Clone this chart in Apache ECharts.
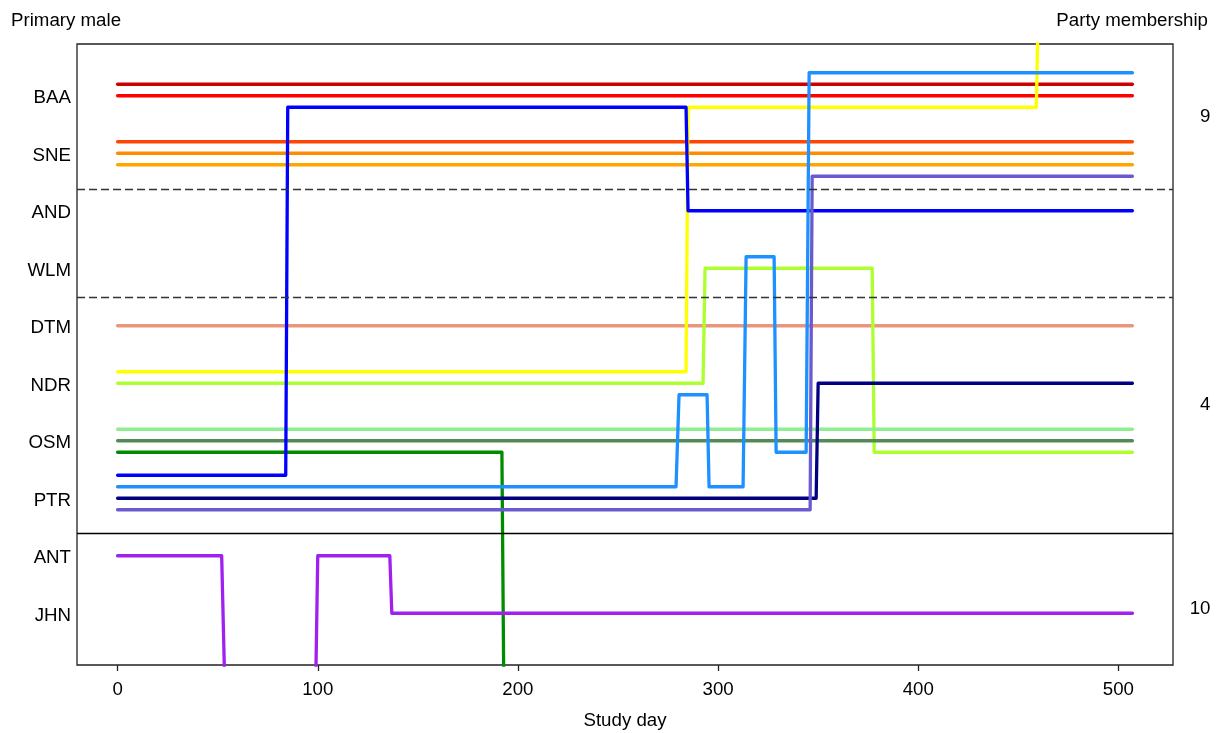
<!DOCTYPE html>
<html>
<head>
<meta charset="utf-8">
<script src="https://cdn.jsdelivr.net/npm/echarts@6/dist/echarts.min.js"></script>
<style>
html,body{margin:0;padding:0;background:#fff;}
#chart{width:1227px;height:733px;}
</style>
</head>
<body>
<div id="chart"></div>
<script>
// ---- data ----
const rowLabels = ['BAA','SNE','AND','WLM','DTM','NDR','OSM','PTR','ANT','JHN'];
const rowValues = [1,2,3,4,5,6,7,8,9,10];
const partyLabels = ['9','4','10'];
const partyValues = [1.34, 6.34, 9.89];
const xTicks = [0,100,200,300,400,500];
const dashedBoundaries = [2.63, 4.5];
const solidBoundaries = [8.6];

// individual paths: [study day, position]
const red3Path        = [[0,0.8],[507,0.8]];
const redPath         = [[0,1.0],[507,1.0]];
const orangeredPath   = [[0,1.8],[507,1.8]];
const darkorangePath  = [[0,2.0],[507,2.0]];
const orangePath      = [[0,2.2],[507,2.2]];
const salmonPath      = [[0,5.0],[507,5.0]];
const yellowPath      = [[0,5.8],[284,5.8],[285,1.2],[459,1.2],[460,-0.6],[507,-0.6]];
const greenyellowPath = [[0,6.0],[292.5,6.0],[293.5,4.0],[377,4.0],[378,7.2],[507,7.2]];
const lightgreenPath  = [[0,6.8],[507,6.8]];
const palegreenPath   = [[0,7.0],[507,7.0]];
const greenPath       = [[0,7.2],[192,7.2],[193,11.5]];
const bluePath        = [[0,7.6],[84,7.6],[85,1.2],[284,1.2],[285,3.0],[507,3.0]];
const dodgerbluePath  = [[0,7.8],[279,7.8],[280.5,6.2],[294.5,6.2],[295.5,7.8],[312.5,7.8],[314,3.8],[328,3.8],[329,7.2],[344,7.2],[345.5,0.6],[507,0.6]];
const navyPath        = [[0,8.0],[349,8.0],[350,6.0],[507,6.0]];
const slatebluePath   = [[0,8.2],[346,8.2],[347,2.4],[507,2.4]];
const purplePath      = [[0,9.0],[52,9.0],[53.5,11.2],[99,11.2],[100,9.0],[136,9.0],[137,10.0],[507,10.0]];

const individuals = [
  {name:'red3', color:'#CD0000', data:red3Path},
  {name:'red', color:'#FF0000', data:redPath},
  {name:'orangered', color:'#FF4500', data:orangeredPath},
  {name:'darkorange', color:'#FF8C00', data:darkorangePath},
  {name:'orange', color:'#FFA500', data:orangePath},
  {name:'darksalmon', color:'#E9967A', data:salmonPath},
  {name:'yellow', color:'#FFFF00', data:yellowPath},
  {name:'greenyellow', color:'#ADFF2F', data:greenyellowPath},
  {name:'lightgreen', color:'#90EE90', data:lightgreenPath},
  {name:'palegreen4', color:'#548B54', data:palegreenPath},
  {name:'green4', color:'#008B00', data:greenPath},
  {name:'blue', color:'#0000FF', data:bluePath},
  {name:'dodgerblue', color:'#1E90FF', data:dodgerbluePath},
  {name:'navy', color:'#000080', data:navyPath},
  {name:'slateblue', color:'#6A5ACD', data:slatebluePath},
  {name:'purple', color:'#A020F0', data:purplePath}
];

const FONT = 'Liberation Sans, Arial, sans-serif';
const FS = 18.7;

const series = individuals.map(ind => ({
  type:'line',
  name: ind.name,
  data: ind.data,
  showSymbol:false,
  symbol:'none',
  clip:true,
  animation:false,
  lineStyle:{color:ind.color, width:3.3, cap:'round', join:'round'},
  emphasis:{disabled:true}
}));

series.unshift({
  type:'line',
  name:'boundaries',
  data:[],
  silent:true,
  markLine:{
    silent:true,
    symbol:['none','none'],
    label:{show:false},
    animation:false,
    data: dashedBoundaries.map(v => ({yAxis:v, lineStyle:{color:'#333', width:1.4, type:[8,4]}}))
      .concat(solidBoundaries.map(v => ({yAxis:v, lineStyle:{color:'#000', width:1.4, type:'solid'}})))
  }
});

const chart = echarts.init(document.getElementById('chart'), null, {renderer:'canvas'});
chart.setOption({
  animation:false,
  backgroundColor:'#fff',
  title:[
    {text:'Primary male', left:11, top:11, padding:0,
     textStyle:{fontFamily:FONT, fontSize:FS, fontWeight:'normal', color:'#000'}},
    {text:'Party membership', right:19, top:11, padding:0,
     textStyle:{fontFamily:FONT, fontSize:FS, fontWeight:'normal', color:'#000'}}
  ],
  grid:{left:77, right:54, top:44, bottom:68, outerBoundsMode:'none', containLabel:false,
        show:true, borderColor:'#222', borderWidth:1.3, backgroundColor:'transparent'},
  xAxis:{
    type:'value', min:-20.28, max:527.28,
    name:'Study day', nameLocation:'middle', nameGap:46,
    nameTextStyle:{fontFamily:FONT, fontSize:FS, color:'#000'},
    axisLine:{show:false},
    splitLine:{show:false},
    axisTick:{show:true, inside:false, length:6, customValues:xTicks, lineStyle:{color:'#222', width:1.3}},
    axisLabel:{customValues:xTicks, margin:15, fontFamily:FONT, fontSize:FS, color:'#000'}
  },
  yAxis:[
    {
      type:'value', min:0.1, max:10.9, inverse:true, position:'left',
      axisLine:{show:false}, axisTick:{show:false}, splitLine:{show:false},
      axisLabel:{customValues:rowValues, margin:6, verticalAlign:'top', lineHeight:5, fontFamily:FONT, fontSize:FS, color:'#000',
        formatter: v => { const i = rowValues.indexOf(Math.round(v)); return i >= 0 ? rowLabels[i] : ''; }}
    },
    {
      type:'value', min:0.1, max:10.9, inverse:true, position:'right',
      axisLine:{show:false}, axisTick:{show:false}, splitLine:{show:false},
      axisLabel:{customValues:partyValues, margin:37.5, verticalAlign:'top', lineHeight:4, align:'right', fontFamily:FONT, fontSize:FS, color:'#000',
        formatter: v => { let best = 0; partyValues.forEach((p,i)=>{ if (Math.abs(p-v) < Math.abs(partyValues[best]-v)) best = i; }); return partyLabels[best]; }}
    }
  ],
  series: series
});
</script>
</body>
</html>
